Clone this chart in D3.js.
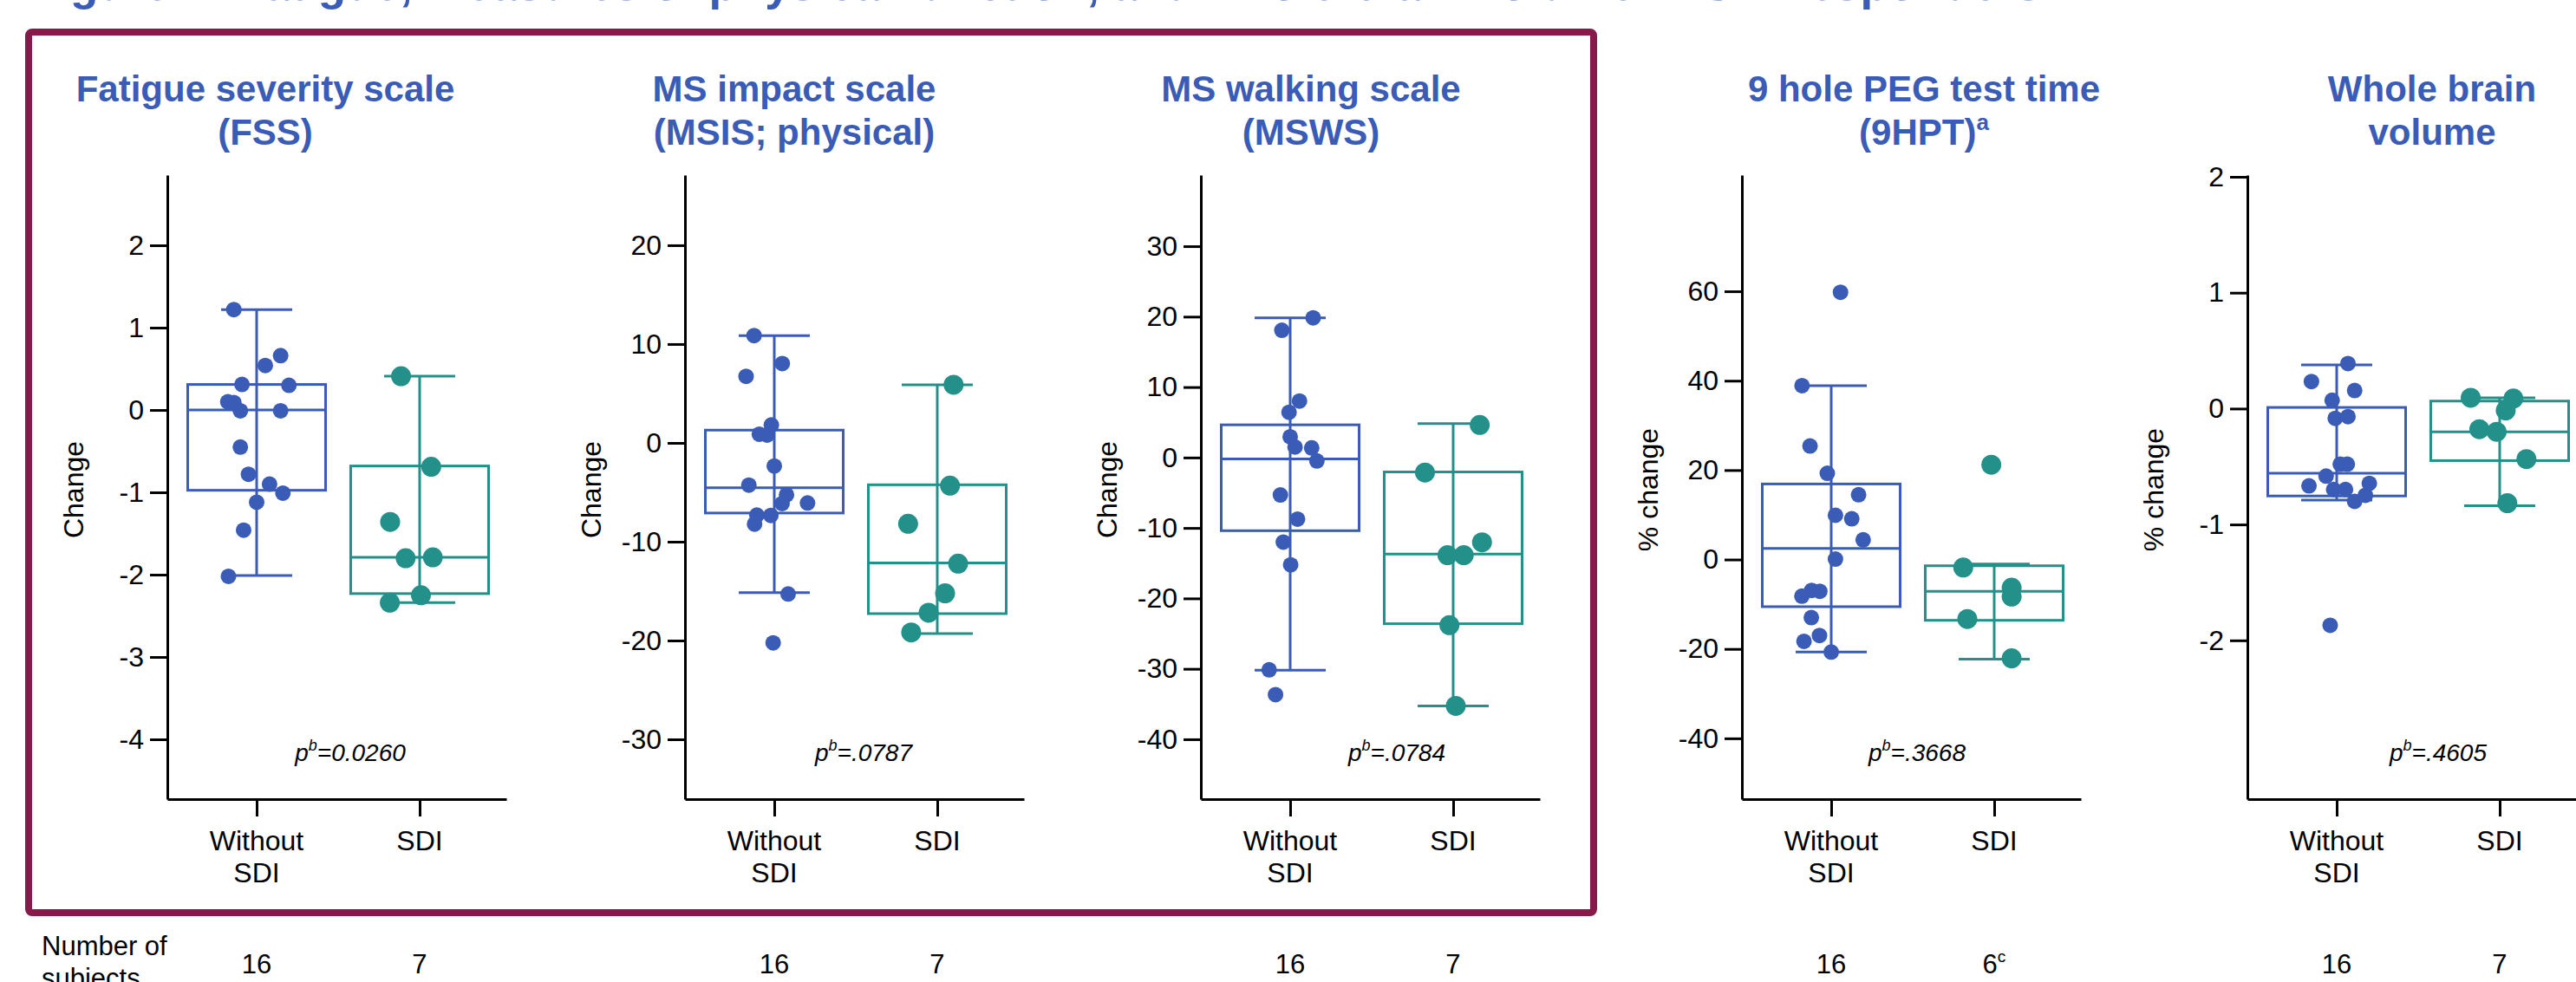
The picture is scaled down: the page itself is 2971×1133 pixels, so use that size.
<!DOCTYPE html>
<html>
<head>
<meta charset="utf-8">
<script src="https://cdn.jsdelivr.net/npm/d3@7"></script>
<style>
  body { margin: 0; background: #fff; }
  svg text { font-family: "Liberation Sans", Arial, sans-serif; }
</style>
</head>
<body>
<div id="chart"></div>
<script>
// ---- data ----
let mainTitle = "Figure 4: Fatigue, measures of physical function, and whole brain volume in SDI responders";
let titles = [
  ["Fatigue severity scale", "(FSS)"],
  ["MS impact scale", "(MSIS; physical)"],
  ["MS walking scale", "(MSWS)"],
  ["9 hole PEG test time", "(9HPT)"],
  ["Whole brain", "volume"]
];
let titleSup = ["", "", "", "a", ""];
let yLabels = ["Change", "Change", "Change", "% change", "% change"];
let yTicks = [
  [2, 1, 0, -1, -2, -3, -4],
  [20, 10, 0, -10, -20, -30],
  [30, 20, 10, 0, -10, -20, -30, -40],
  [60, 40, 20, 0, -20, -40],
  [2, 1, 0, -1, -2]
];
let yDomains = [[2.853, -4.726], [27.1, -36.05], [40.1, -48.5], [86, -53.6], [2.015, -3.37]];
let pValues = ["0.0260", ".0787", ".0784", ".3668", ".4605"];
let groupLines = [["Without", "SDI"], ["SDI"]];
let nSubjects = [["16", "7"], ["16", "7"], ["16", "7"], ["16", "6"], ["16", "7"]];
let nSup = [["", ""], ["", ""], ["", ""], ["", "c"], ["", ""]];

// points: values and horizontal jitter (in category units)
let fssWithout = [1.22, 0.66, 0.54, 0.31, 0.30, 0.10, 0.09, -0.01, -0.01, -0.45, -0.78, -0.90, -1.01, -1.12, -1.46, -2.02];
let fssWithoutJit = [-0.14, 0.147, 0.053, -0.09, 0.198, -0.177, -0.14, -0.10, 0.147, -0.10, -0.05, 0.079, 0.161, 0, -0.08, -0.173];
let fssSdi = [0.41, -0.69, -1.36, -1.80, -1.79, -2.25, -2.34];
let fssSdiJit = [-0.114, 0.071, -0.181, -0.086, 0.081, 0.008, -0.183];

let msisWithout = [10.86, 8.03, 6.74, 1.81, 0.88, 0.79, -2.34, -4.27, -5.26, -6.14, -6.08, -7.31, -7.34, -8.22, -15.29, -20.23];
let msisWithoutJit = [-0.124, 0.049, -0.173, -0.018, -0.092, -0.044, 0, -0.156, 0.075, 0.048, 0.204, -0.107, -0.021, -0.121, 0.085, -0.007];
let msisSdi = [5.88, -4.33, -8.19, -12.22, -15.23, -17.19, -19.18];
let msisSdiJit = [0.1, 0.078, -0.179, 0.128, 0.048, -0.053, -0.16];

let mswsWithout = [19.83, 18.06, 8.02, 6.42, 2.95, 1.49, 1.36, -0.48, -5.31, -8.75, -12.0, -15.23, -30.14, -33.66];
let mswsWithoutJit = [0.141, -0.051, 0.057, -0.007, 0, 0.03, 0.132, 0.164, -0.06, 0.045, -0.042, 0.003, -0.129, -0.09];
let mswsSdi = [4.62, -2.13, -12.03, -13.87, -13.87, -23.8, -35.26];
let mswsSdiJit = [0.163, -0.173, 0.177, -0.035, 0.065, -0.023, 0.016];

let hptWithout = [59.8, 38.9, 25.4, 19.3, 14.5, 9.9, 9.1, 4.4, 0.1, -6.9, -7.1, -8.2, -13.0, -17.0, -18.3, -20.7];
let hptWithoutJit = [0.057, -0.179, -0.13, -0.024, 0.168, 0.026, 0.126, 0.196, 0.026, -0.12, -0.07, -0.18, -0.122, -0.072, -0.167, 0];
let hptSdi = [21.2, -1.8, -6.3, -8.3, -13.3, -22.1];
let hptSdiJit = [-0.018, -0.19, 0.107, 0.107, -0.165, 0.107];

let wbvWithout = [0.389, 0.234, 0.156, 0.072, -0.084, -0.069, -0.48, -0.48, -0.583, -0.667, -0.645, -0.698, -0.698, -0.748, -0.80, -1.87];
let wbvWithoutJit = [0.069, -0.155, 0.11, -0.028, -0.009, 0.069, 0.022, 0.065, -0.065, -0.17, 0.2, -0.019, 0.054, 0.176, 0.11, -0.04];
let wbvSdi = [0.093, 0.087, -0.016, -0.178, -0.2, -0.436, -0.816];
let wbvSdiJit = [-0.178, 0.084, 0.037, -0.125, -0.019, 0.164, 0.047];

// box stats: [whisker low, q1, median, q3, whisker high]
let fssBox = [[-2.01, -0.975, 0, 0.31, 1.22], [-2.34, -2.23, -1.79, -0.68, 0.41]];
let msisBox = [[-15.15, -7.1, -4.53, 1.29, 10.86], [-19.3, -17.28, -12.16, -4.24, 5.88]];
let mswsBox = [[-30.2, -10.39, -0.2, 4.64, 19.83], [-35.26, -23.6, -13.7, -2.05, 4.8]];
let hptBox = [[-20.7, -10.55, 2.5, 16.9, 38.9], [-22.3, -13.6, -7.1, -1.4, -1.0]];
let wbvBox = [[-0.79, -0.754, -0.558, 0.01, 0.377], [-0.838, -0.449, -0.2, 0.065, 0.093]];

let points = [
  [[fssWithout, fssWithoutJit], [fssSdi, fssSdiJit]],
  [[msisWithout, msisWithoutJit], [msisSdi, msisSdiJit]],
  [[mswsWithout, mswsWithoutJit], [mswsSdi, mswsSdiJit]],
  [[hptWithout, hptWithoutJit], [hptSdi, hptSdiJit]],
  [[wbvWithout, wbvWithoutJit], [wbvSdi, wbvSdiJit]]
];
let boxes = [fssBox, msisBox, mswsBox, hptBox, wbvBox];

// ---- layout ----
let width = 2971, height = 1133;
let axisXs = [193, 790, 1385, 2009, 2592];
let titleXs = [306, 916, 1512, 2219, 2805];
let pXs = [404, 996, 1611, 2211, 2812];
let plotTop = 202, plotBottom = 922, xLen = 391;
let blue = "#3a5cb6", teal = "#23918a", maroon = "#861a4b";
let colors = [blue, teal];
let radius = [9, 11.5];

let svg = d3.select("#chart").append("svg")
    .attr("width", width).attr("height", height)
    .attr("viewBox", [0, 0, width, height]);

svg.append("text")
    .attr("x", 34).attr("y", 0)
    .attr("font-size", 53).attr("font-weight", "bold")
    .attr("fill", blue)
    .text(mainTitle);

svg.append("rect")
    .attr("x", 33).attr("y", 37)
    .attr("width", 1805).attr("height", 1016)
    .attr("rx", 4)
    .attr("fill", "none")
    .attr("stroke", maroon)
    .attr("stroke-width", 8);

svg.append("text").attr("x", 48).attr("y", 1102).attr("font-size", 31).text("Number of");
svg.append("text").attr("x", 48).attr("y", 1139).attr("font-size", 31).text("subjects");

titles.forEach((t, i) => {
    let ax = axisXs[i];
    let y = d3.scaleLinear().domain(yDomains[i]).range([plotTop, plotBottom]);
    let x = d3.scaleLinear().domain([-0.548, 1.532]).range([ax, ax + xLen]);
    let g = svg.append("g");

    // panel title
    let tt = g.append("text")
        .attr("x", titleXs[i]).attr("y", 117)
        .attr("text-anchor", "middle")
        .attr("font-size", 42).attr("font-weight", "bold").attr("fill", blue);
    tt.append("tspan").attr("x", titleXs[i]).text(t[0]);
    tt.append("tspan").attr("x", titleXs[i]).attr("y", 167).text(t[1]);
    if (titleSup[i]) {
        tt.append("tspan").attr("font-size", 26).attr("dy", -17).text(titleSup[i]);
    }

    // y axis
    let yAxis = g.append("g")
        .attr("transform", `translate(${ax},0)`)
        .call(d3.axisLeft(y).tickValues(yTicks[i]).tickSize(20).tickSizeOuter(0).tickPadding(7)
            .tickFormat(d => String(d)));
    yAxis.attr("font-family", null).attr("font-size", null);
    yAxis.selectAll("path, line").attr("stroke", "#000").attr("stroke-width", 3);
    yAxis.selectAll("text").attr("font-size", 32).attr("fill", "#000");

    // x axis
    let xAxis = g.append("g")
        .attr("transform", `translate(0,${plotBottom})`)
        .call(d3.axisBottom(x).tickValues([0, 1]).tickSize(20).tickSizeOuter(0).tickFormat(""));
    xAxis.selectAll("path, line").attr("stroke", "#000").attr("stroke-width", 3);

    groupLines.forEach((lines, k) => {
        let lab = g.append("text")
            .attr("text-anchor", "middle")
            .attr("font-size", 32);
        lines.forEach((s, j) => {
            lab.append("tspan").attr("x", x(k)).attr("y", 981 + j * 37).text(s);
        });
        let n = g.append("text")
            .attr("x", x(k)).attr("y", 1123)
            .attr("text-anchor", "middle")
            .attr("font-size", 31);
        n.append("tspan").text(nSubjects[i][k]);
        if (nSup[i][k]) n.append("tspan").attr("font-size", 19).attr("dy", -13).text(nSup[i][k]);
    });

    // y axis title
    g.append("text")
        .attr("transform", `translate(${ax - 97},565) rotate(-90)`)
        .attr("text-anchor", "middle")
        .attr("font-size", 32)
        .text(yLabels[i]);

    // boxes
    boxes[i].forEach((b, k) => {
        let bg = g.append("g")
            .attr("stroke", colors[k]).attr("stroke-width", 3).attr("fill", "none");
        bg.append("line")
            .attr("x1", x(k)).attr("x2", x(k))
            .attr("y1", y(b[0])).attr("y2", y(b[4]));
        bg.append("rect")
            .attr("x", x(k - 0.423)).attr("width", x(k + 0.423) - x(k - 0.423))
            .attr("y", y(b[3])).attr("height", y(b[1]) - y(b[3]));
        bg.append("line")
            .attr("x1", x(k - 0.423)).attr("x2", x(k + 0.423))
            .attr("y1", y(b[2])).attr("y2", y(b[2]));
        [b[0], b[4]].forEach(v => {
            bg.append("line")
                .attr("x1", x(k - 0.218)).attr("x2", x(k + 0.218))
                .attr("y1", y(v)).attr("y2", y(v));
        });
    });

    // points
    points[i].forEach((pts, k) => {
        g.append("g")
            .attr("fill", colors[k])
            .selectAll("circle")
            .data(pts[0])
            .join("circle")
            .attr("cx", (d, j) => x(k + pts[1][j]))
            .attr("cy", d => y(d))
            .attr("r", radius[k]);
    });

    // p value
    let pt = g.append("text")
        .attr("x", pXs[i]).attr("y", 878)
        .attr("text-anchor", "middle")
        .attr("font-size", 28).attr("font-style", "italic");
    pt.append("tspan").text("p");
    pt.append("tspan").attr("font-size", 18).attr("dy", -12).text("b");
    pt.append("tspan").attr("dy", 12).text("=" + pValues[i]);
});
</script>
</body>
</html>
